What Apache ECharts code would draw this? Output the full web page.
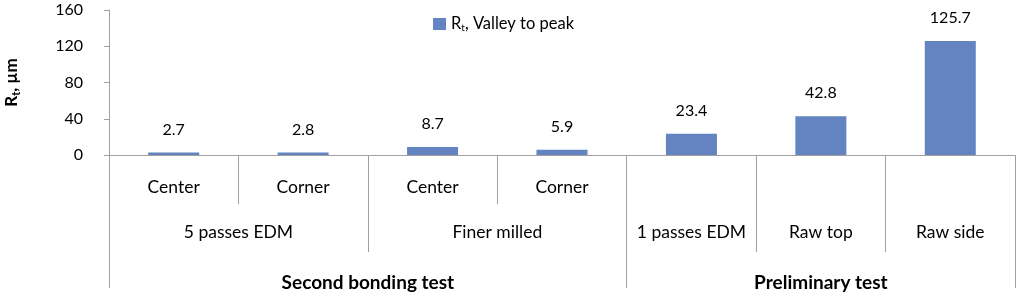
<!DOCTYPE html>
<html>
<head>
<meta charset="utf-8">
<script src="https://cdn.jsdelivr.net/npm/echarts@6/dist/echarts.min.js"></script>
<style>html,body{margin:0;padding:0;background:#fff;}#c{width:1024px;height:296px;}</style>
</head>
<body>
<div id="c"></div>
<script>
// ---- data ----
const level1 = ['Center', 'Corner', 'Center', 'Corner', '', '', ''];
const level2 = ['5 passes EDM', 'Finer milled', '1 passes EDM', 'Raw top', 'Raw side'];
const level2Span = [2, 2, 1, 1, 1];
const level3 = ['Second bonding test', 'Preliminary test'];
const level3Span = [4, 3];
const values = [2.7, 2.8, 8.7, 5.9, 23.4, 42.8, 125.7];
const yTicks = [0, 40, 80, 120, 160];

// ---- build grouped axis data ----
const N = level1.length;
function buildLevel(names, spans) {
  const data = new Array(N).fill('');
  const starts = new Set();
  const shifted = new Set();
  let i = 0;
  names.forEach((n, k) => {
    const s = spans[k];
    starts.add(i);
    const idx = i + Math.floor((s - 1) / 2);
    data[idx] = n;
    if (s % 2 === 0) shifted.add(idx);
    i += s;
  });
  return { data, starts, shifted };
}
const L2 = buildLevel(level2, level2Span);
const L3 = buildLevel(level3, level3Span);

const GRID_L = 109, GRID_R = 9;
const BAND = (1024 - GRID_L - GRID_R) / N;
const AXIS_COLOR = '#a0a0a0';
const FONT = 'Lato';
const WORD = 17.5, BOLD = 19, NUM = 16;

function labelFmt(lvl) {
  return function (value, index) {
    if (!value) return '';
    if (lvl.shifted.has(index)) return '{s|' + value + '}';
    return '{n|' + value + '}';
  };
}

const chart = echarts.init(document.getElementById('c'), null, { renderer: 'canvas' });
const option = {
  animation: false,
  backgroundColor: '#fff',
  textStyle: { fontFamily: FONT },
  grid: { left: GRID_L, right: GRID_R, top: 10, bottom: 141, containLabel: false, outerBoundsMode: 'none' },
  legend: {
    left: 428, top: 9,
    itemWidth: 13, itemHeight: 12, itemGap: 10,
    icon: 'rect',
    data: ['Rt'],
    formatter: function () { return '{a|R}{b|t}{a|, Valley to peak}'; },
    textStyle: {
      fontFamily: FONT, color: '#000',
      rich: {
        a: { fontSize: 16.5, fontFamily: FONT, color: '#000', lineHeight: 20 },
        b: { fontSize: 10, fontFamily: FONT, color: '#000', lineHeight: 12, padding: [9, 0, 0, 0], verticalAlign: 'top' }
      }
    }
  },
  xAxis: [
    {
      type: 'category', data: level1, position: 'bottom', gridIndex: 0,
      axisLine: { show: true, lineStyle: { color: AXIS_COLOR, width: 1 } },
      axisTick: { show: true, length: 49, interval: 0, lineStyle: { color: AXIS_COLOR } },
      axisLabel: { interval: 0, margin: 23, fontSize: WORD, fontFamily: FONT, color: '#000' }
    },
    {
      type: 'category', data: L2.data, position: 'bottom', offset: 49, gridIndex: 0,
      axisLine: { show: false },
      axisTick: { show: true, length: 48, interval: (i) => L2.starts.has(i), lineStyle: { color: AXIS_COLOR } },
      axisLabel: {
        interval: 0, margin: 19, formatter: labelFmt(L2),
        rich: {
          n: { fontSize: WORD, fontFamily: FONT, color: '#000' },
          s: { fontSize: WORD, fontFamily: FONT, color: '#000', padding: [0, 0, 0, BAND] }
        }
      }
    },
    {
      type: 'category', data: L3.data, position: 'bottom', offset: 97, gridIndex: 0,
      axisLine: { show: false },
      axisTick: { show: true, length: 36, interval: (i) => L3.starts.has(i), lineStyle: { color: AXIS_COLOR } },
      axisLabel: {
        interval: 0, margin: 21, formatter: labelFmt(L3),
        rich: {
          n: { fontSize: BOLD, fontWeight: 'bold', fontFamily: FONT, color: '#000' },
          s: { fontSize: BOLD, fontWeight: 'bold', fontFamily: FONT, color: '#000', padding: [0, 0, 0, BAND] }
        }
      }
    }
  ],
  yAxis: {
    type: 'value', min: yTicks[0], max: yTicks[yTicks.length - 1], interval: yTicks[1] - yTicks[0],
    name: '{a|R}{b|t}{a|, µm}',
    nameLocation: 'middle', nameRotate: 90, nameGap: 87,
    nameTextStyle: {
      rich: {
        a: { fontSize: 17, fontWeight: 'bold', fontFamily: FONT, color: '#000', lineHeight: 20 },
        b: { fontSize: 11, fontWeight: 'bold', fontFamily: FONT, color: '#000', lineHeight: 12, padding: [9, 0, 0, 0], verticalAlign: 'top' }
      }
    },
    axisLine: { show: true, lineStyle: { color: AXIS_COLOR } },
    axisTick: { show: true, length: 5, lineStyle: { color: AXIS_COLOR } },
    axisLabel: { margin: 26, fontSize: NUM, fontFamily: FONT, color: '#000' },
    splitLine: { show: false }
  },
  series: [{
    name: 'Rt', type: 'bar', xAxisIndex: 0, data: values,
    barWidth: 51,
    itemStyle: { color: '#6384c0' },
    label: { show: true, position: 'top', distance: 15, fontSize: NUM, fontFamily: FONT, color: '#000' }
  }]
};
chart.setOption(option);
</script>
</body>
</html>
